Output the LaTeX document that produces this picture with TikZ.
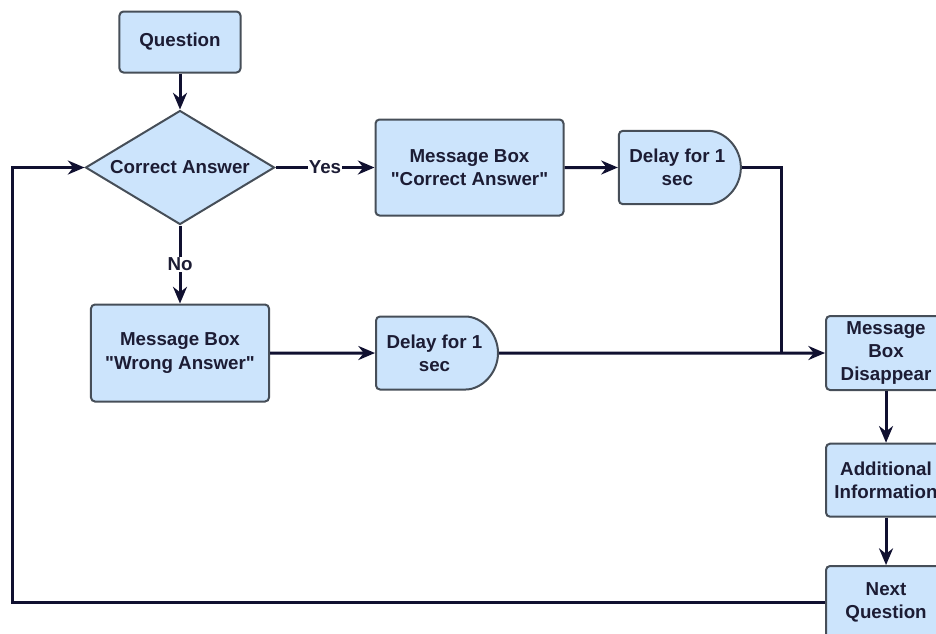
\documentclass[tikz,border=0pt]{standalone}
\usepackage{fontspec}
\setmainfont{Liberation Sans}
\usepackage{tikz}
\usetikzlibrary{positioning,arrows.meta,shapes.geometric,shapes.misc}
\definecolor{BoxBlue}{RGB}{204,228,252}
\definecolor{BoxEdge}{RGB}{70,78,88}
\definecolor{LineNavy}{RGB}{16,16,48}
\definecolor{TextNavy}{RGB}{28,28,52}

\begin{document}
\begin{tikzpicture}[x=0.03cm, y=-0.03cm,
    box/.style={rectangle, draw=BoxEdge, fill=BoxBlue, rounded corners=0.12cm,
                line width=0.06cm, align=center, text=TextNavy, inner sep=0pt,
                font=\bfseries\fontsize{16}{20}\selectfont},
    decision/.style={diamond, draw=BoxEdge, fill=BoxBlue, line width=0.06cm,
                     aspect=1.66, inner sep=0pt, text=TextNavy,
                     font=\bfseries\fontsize{16}{20}\selectfont,
                     minimum width=5.67cm, minimum height=3.42cm},
    delaybox/.style={box, rounded rectangle, rounded rectangle west arc=none},
    arrow/.style={-{Stealth[length=5mm, width=4.2mm]}, line width=0.09cm, draw=LineNavy},
    line/.style={line width=0.09cm, draw=LineNavy},
    lbl/.style={fill=white, inner sep=1pt, text=TextNavy,
                font=\bfseries\fontsize{16}{20}\selectfont}
]
    \useasboundingbox (0,0) rectangle (936,633);

    \node[box, minimum width=3.63cm, minimum height=1.83cm] (q) at (180,42) {Question};
    \node[decision, below=1.08cm of q] (ca) {Correct Answer};
    \node[box, minimum width=5.64cm, minimum height=2.88cm, right=2.97cm of ca] (mbc) {Message Box\\\textquotedbl Correct Answer\textquotedbl};
    \node[delaybox, minimum width=3.66cm, minimum height=2.2cm, right=1.6cm of mbc] (dl1) {Delay for 1\\sec};
    \node[box, minimum width=5.34cm, minimum height=2.91cm, below=2.34cm of ca] (mbw) {Message Box\\\textquotedbl Wrong Answer\textquotedbl};
    \node[delaybox, minimum width=3.66cm, minimum height=2.19cm, right=3.15cm of mbw] (dl2) {Delay for 1\\sec};
    \node[box, minimum width=3.6cm, minimum height=2.22cm, right=9.78cm of dl2] (mbd) {Message\\Box\\Disappear};
    \node[box, minimum width=3.6cm, minimum height=2.19cm, below=1.55cm of mbd] (ai) {Additional\\Information};
    \node[box, minimum width=3.6cm, minimum height=2.19cm, below=1.42cm of ai] (nq) {Next\\Question};

    \coordinate (join) at ([xshift=1.2cm]dl1.east |- mbd.west);
    \coordinate (back) at (12,0);

    \draw[arrow] (q) -- (ca);
    \draw[arrow] (ca) -- node[lbl] {Yes} (mbc);
    \draw[arrow] (ca) -- node[lbl] {No} (mbw);
    \draw[arrow] (mbc) -- (dl1);
    \draw[arrow] (mbw) -- (dl2);
    \draw[arrow] (dl2) -- (mbd);
    \draw[line] (dl1.east) -| (join);
    \draw[arrow] (mbd) -- (ai);
    \draw[arrow] (ai) -- (nq);
    \draw[arrow] (nq.west) -- (nq.west -| back) |- (ca.west);
\end{tikzpicture}
\end{document}
